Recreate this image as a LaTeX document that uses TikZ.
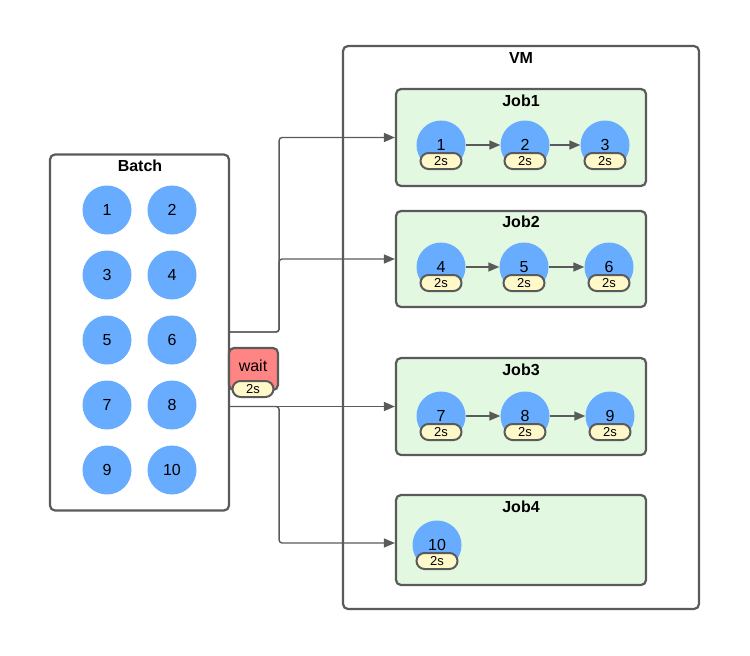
\documentclass[tikz,border=0pt]{standalone}
\usepackage{fontspec}
\setmainfont{Liberation Sans}
\usetikzlibrary{arrows.meta}
\definecolor{edgegray}{HTML}{5A5A5A}
\definecolor{taskblue}{HTML}{68ACFF}
\definecolor{jobgreen}{HTML}{E2F8E0}
\definecolor{pillyellow}{HTML}{FFF8C8}
\definecolor{waitred}{HTML}{FF8484}
\tikzset{
	frame/.style={draw=edgegray, line width=2.2pt, rounded corners=5pt, fill=white},
	jobbox/.style={frame, fill=jobgreen},
	task/.style={circle, fill=taskblue, minimum size=49pt, inner sep=0pt, font=\fontsize{16}{16}\selectfont},
	pill/.style={draw=edgegray, line width=2pt, fill=pillyellow, rounded corners=8pt, minimum width=41pt, minimum height=16pt, inner sep=0pt, font=\fontsize{13}{13}\selectfont},
	title/.style={font=\bfseries\fontsize{16}{16}\selectfont},
	link/.style={draw=edgegray, line width=1.4pt, -{Triangle[length=11pt,width=9pt]}, rounded corners=3pt},
}
\def\task(#1,#2)#3{\node[task] (t#3) at (#1,#2) {#3}; \node[pill] (p#3) at (#1,#2+16) {2s};}

\begin{document}
\begin{tikzpicture}[x=1pt,y=-1pt]
			%%%%% START %%%%%
			\useasboundingbox (0,0) rectangle (750,656);
			
			% VM and its jobs
			\node[frame, minimum width=356pt, minimum height=563pt] (vm) at (521,327.5) {};
			\node[title] (vmtitle) at (521,58) {VM};
			
			\node[jobbox, minimum width=250pt, minimum height=97pt] (job1) at (521,137.5) {};
			\node[jobbox, minimum width=250pt, minimum height=96pt] (job2) at (521,259) {};
			\node[jobbox, minimum width=250pt, minimum height=97pt] (job3) at (521,406.5) {};
			\node[jobbox, minimum width=250pt, minimum height=90pt] (job4) at (521,540) {};
			\node[title] (job1title) at (521,101) {Job1};
			\node[title] (job2title) at (521,222) {Job2};
			\node[title] (job3title) at (521,370) {Job3};
			\node[title] (job4title) at (521,507) {Job4};
			
			\task(441,145){1}
			\task(525,145){2}
			\task(605,145){3}
			\draw[link] (t1) -- (t2);
			\draw[link] (t2) -- (t3);
			
			\task(441,267){4}
			\task(524,267){5}
			\task(609,267){6}
			\draw[link] (t4) -- (t5);
			\draw[link] (t5) -- (t6);
			
			\task(441,416){7}
			\task(525,416){8}
			\task(610,416){9}
			\draw[link] (t7) -- (t8);
			\draw[link] (t8) -- (t9);
			
			\task(437,545){10}
			
			% batch
			\node[frame, minimum width=179pt, minimum height=356pt] (batch) at (139.5,332.5) {};
			\node[title] (batchtitle) at (140,166) {Batch};
			\foreach \n/\x/\y in {1/107/210, 2/172/210, 3/107/275, 4/172/275, 5/107/340, 6/172/340, 7/107/405, 8/172/405, 9/107/470, 10/172/470}
				\node[task] (b\n) at (\x,\y) {\n};
			
			% connectors
			\coordinate (upout) at (batch.east |- 0,332);
			\coordinate (lowout) at (batch.east |- job3.west);
			\draw[link] (upout) -- ++(49,0) |- (job1.west);
			\draw[link] (upout) -- ++(49,0) |- (job2.west);
			\draw[link] (lowout) -- (job3.west);
			\draw[link] (lowout) -- ++(49,0) |- ([yshift=-3pt]job4.west);
			
			% wait
			\node[frame, fill=waitred, minimum width=49pt, minimum height=42pt] (wait) at (253.5,369) {};
			\node[font=\fontsize{16}{16}\selectfont] (waittext) at (253,366) {wait};
			\node[pill] (waitpill) at (253,389) {2s};
			%%%%% END %%%%%
\end{tikzpicture}
\end{document}
